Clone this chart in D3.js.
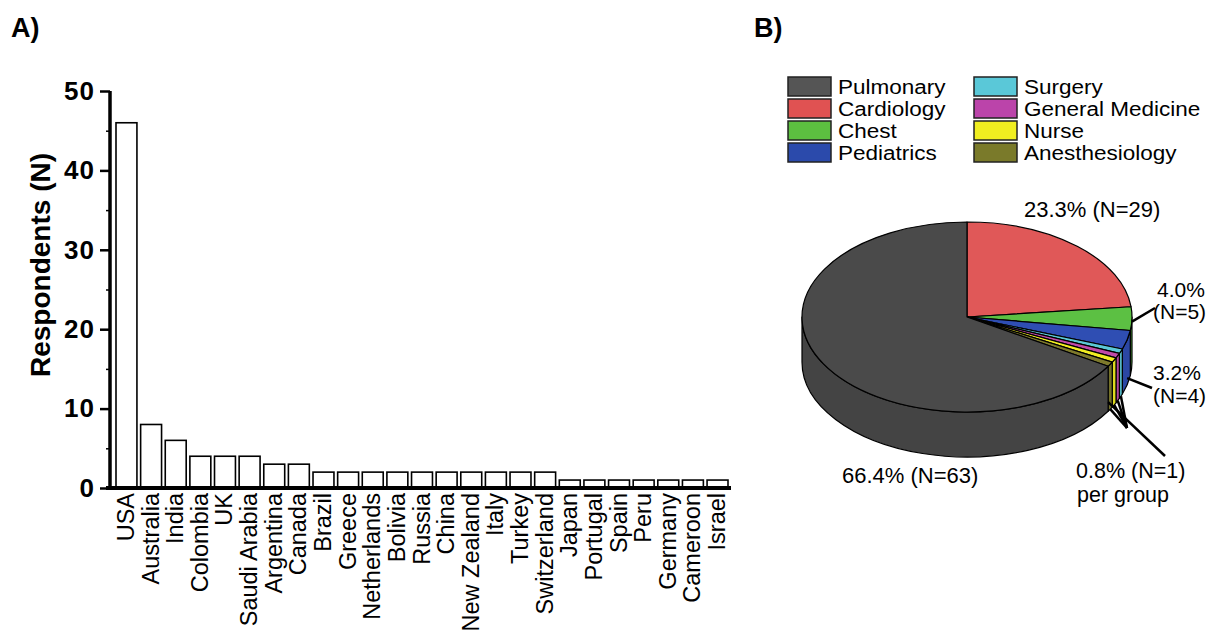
<!DOCTYPE html>
<html><head><meta charset="utf-8">
<script src="https://cdn.jsdelivr.net/npm/d3@7"></script>
<style>
html,body{margin:0;padding:0;background:#fff;}
svg text{font-family:"Liberation Sans",Arial,sans-serif;fill:#000;}
</style></head>
<body>
<svg id="chart" width="1208" height="630"></svg>
<script>
// ---- Panel A data ----
const countries = ["USA","Australia","India","Colombia","UK","Saudi Arabia","Argentina","Canada","Brazil","Greece","Netherlands","Bolivia","Russia","China","New Zealand","Italy","Turkey","Switzerland","Japan","Portugal","Spain","Peru","Germany","Cameroon","Israel"];
const respondents = [46,8,6,4,4,4,3,3,2,2,2,2,2,2,2,2,2,2,1,1,1,1,1,1,1];
const yTicks = [0,10,20,30,40,50];
const yMinorTicks = [5,15,25,35,45];

// ---- Panel B data (clockwise from 12 o'clock) ----
const specialties = ["Cardiology","Chest","Pediatrics","Surgery","General Medicine","Nurse","Anesthesiology","Pulmonary"];
const sharePct = [23.3,4.0,3.2,0.8,0.8,0.8,0.8,66.4];
const sliceColors = ["#e05858","#5cc043","#2f4eb3","#5cc8d6","#c04aa8","#f2ee22","#7e7a2c","#4a4a4a"];
const legendOrder = ["Pulmonary","Cardiology","Chest","Pediatrics","Surgery","General Medicine","Nurse","Anesthesiology"];
const legendColors = ["#555555","#e05252","#5cbf40","#2b4aab","#5ac8d8","#bb44aa","#f0ee20","#7a7a2a"];

const svg = d3.select("#chart");

// ================= Panel A =================
const y = d3.scaleLinear().domain([0,50]).range([488,91]);
const x = d3.scaleBand().domain(countries).range([116,728]).paddingInner(0.15).paddingOuter(0);

svg.append("text").attr("x",11).attr("y",37).attr("font-size",27).attr("font-weight","bold").text("A)");

const gA = svg.append("g");
gA.selectAll("rect.bar").data(countries).join("rect")
  .attr("class","bar")
  .attr("x",d=>x(d)).attr("width",x.bandwidth())
  .attr("y",(d,i)=>y(respondents[i])).attr("height",(d,i)=>y(0)-y(respondents[i]))
  .attr("fill","#fff").attr("stroke","#000").attr("stroke-width",1.6);

// y axis
const yAxis = gA.append("g").attr("transform","translate(110,0)")
  .call(d3.axisLeft(y).tickValues(yTicks).tickSize(10).tickPadding(5));
yAxis.select(".domain").attr("stroke-width",3.5).attr("d","M0,"+(y(0)+2)+"V"+y(50));
yAxis.selectAll(".tick line").attr("stroke-width",2.5);
yAxis.selectAll(".tick text").attr("font-size",26).attr("font-weight","bold")
  .attr("font-family","Liberation Sans, Arial, sans-serif").attr("letter-spacing",1);
const yMinor = gA.append("g").attr("transform","translate(110,0)")
  .call(d3.axisLeft(y).tickValues(yMinorTicks).tickSize(4).tickFormat(""));
yMinor.select(".domain").remove();
yMinor.selectAll(".tick line").attr("stroke-width",1.5);

// x axis
const xAxis = gA.append("g").attr("transform","translate(0,"+y(0)+")")
  .call(d3.axisBottom(x).tickSize(0).tickFormat(""));
xAxis.select(".domain").attr("stroke-width",4).attr("d","M106,0H731");

gA.selectAll("text.country").data(countries).join("text")
  .attr("class","country")
  .attr("transform",d=>"translate("+(x(d)+x.bandwidth()/2+7.5)+",493) rotate(-90)")
  .attr("text-anchor","end").attr("font-size",23.5).text(d=>d);

svg.append("text").attr("transform","translate(50,265) rotate(-90)")
  .attr("text-anchor","middle").attr("font-size",28).attr("font-weight","bold")
  .text("Respondents (N)");

// ================= Panel B =================
svg.append("text").attr("x",754).attr("y",37).attr("font-size",27).attr("font-weight","bold").text("B)");

// legend (tight rows: smaller font, stretched to the reference's text widths)
const leg = svg.append("g");
legendOrder.forEach((name,i)=>{
  const col = Math.floor(i/4), row = i%4;
  const lx = col===0 ? 788 : 974;
  const ly = 77 + row*22;
  leg.append("rect").attr("x",lx).attr("y",ly).attr("width",43).attr("height",19)
    .attr("fill",legendColors[i]).attr("stroke","#222").attr("stroke-width",1.5);
  const t = leg.append("text").attr("x",lx+50).attr("y",ly+16.5).attr("font-size",19.6).text(name);
  const w = t.node().getComputedTextLength();
  t.attr("textLength", w*22.5/19.6).attr("lengthAdjust","spacingAndGlyphs");
});

// 3D pie
const cx=967, cy=317, rx=165, ry=95, depth=45;
const pie = d3.pie().sort(null).value(d=>d)(sharePct);
const P = (a,dy=0)=>[cx+rx*Math.sin(a), cy-ry*Math.cos(a)+dy];
const gB = svg.append("g");

// sides
pie.forEach((s,i)=>{
  const a0=Math.max(s.startAngle,Math.PI/2), a1=Math.min(s.endAngle,3*Math.PI/2);
  if(a1<=a0) return;
  const p0=P(a0),p1=P(a1),q1=P(a1,depth),q0=P(a0,depth);
  const large = (a1-a0)>Math.PI?1:0;
  const d = "M"+p0+"A"+rx+","+ry+" 0 "+large+" 1 "+p1+"L"+q1+"A"+rx+","+ry+" 0 "+large+" 0 "+q0+"Z";
  gB.append("path").attr("d",d).attr("fill",d3.color(sliceColors[i]).darker(0.25))
    .attr("stroke","#000").attr("stroke-width",1.2).attr("stroke-linejoin","round");
});
// tops
pie.forEach((s,i)=>{
  const p0=P(s.startAngle),p1=P(s.endAngle);
  const large=(s.endAngle-s.startAngle)>Math.PI?1:0;
  const d="M"+cx+","+cy+"L"+p0+"A"+rx+","+ry+" 0 "+large+" 1 "+p1+"Z";
  gB.append("path").attr("d",d).attr("fill",sliceColors[i])
    .attr("stroke","#000").attr("stroke-width",1.2).attr("stroke-linejoin","round");
});

// leader lines
const mid = s=>(s.startAngle+s.endAngle)/2;
const lines = gB.append("g").attr("stroke","#000").attr("stroke-width",2.5).attr("fill","none");
lines.append("line").attr("x1",P(mid(pie[1]))[0]).attr("y1",P(mid(pie[1]))[1]+3).attr("x2",1155).attr("y2",308);
lines.append("line").attr("x1",P(mid(pie[2]),depth*0.85)[0]).attr("y1",P(mid(pie[2]),depth*0.85)[1]).attr("x2",1152).attr("y2",388);
[3,4,5,6].forEach(k=>{
  const q=P(mid(pie[k]),depth);
  lines.append("line").attr("x1",q[0]).attr("y1",q[1]).attr("x2",1127).attr("y2",428);
});
const qL=P(pie[6].endAngle,depth*0.8);
lines.append("line").attr("x1",qL[0]).attr("y1",qL[1]).attr("x2",1165).attr("y2",456);

// labels
const lab = (t,x0,y0,fs)=>svg.append("text").attr("x",x0).attr("y",y0).attr("font-size",fs||22).text(t);
lab("23.3% (N=29)",1024,217);
lab("4.0%",1157,297,21);
lab("(N=5)",1153,319,21);
lab("3.2%",1153,380,21);
lab("(N=4)",1153,403,21);
lab("0.8% (N=1)",1076,478,21.5);
lab("per group",1077,502,21.5);
lab("66.4% (N=63)",842,483);
</script>
</body></html>
